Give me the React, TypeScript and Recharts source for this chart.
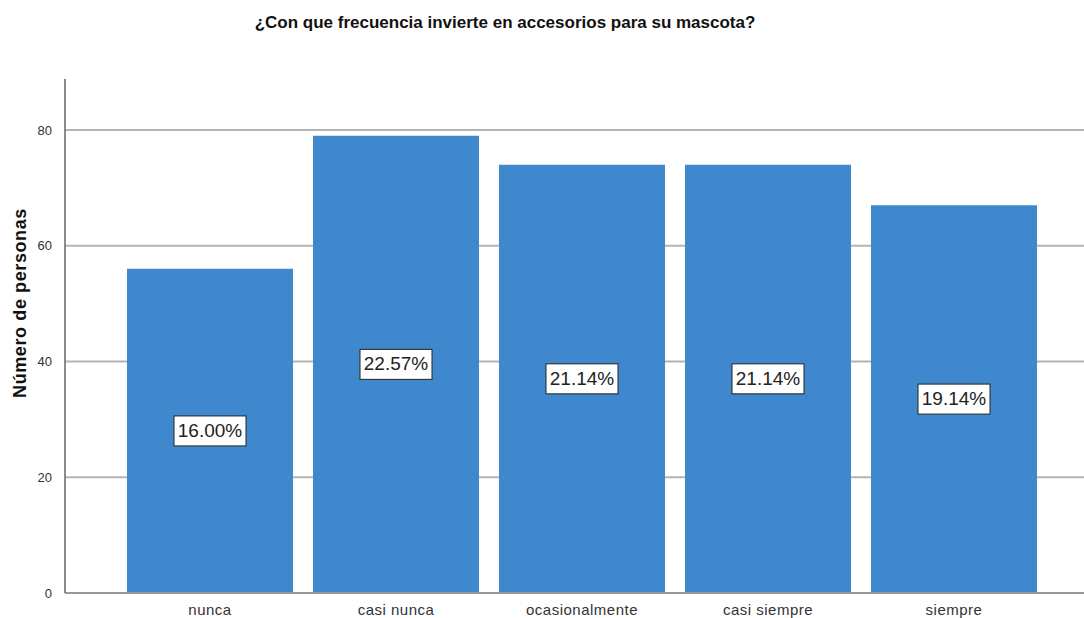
import { BarChart, Bar, XAxis, YAxis, CartesianGrid, LabelList } from 'recharts';

const categories = ['nunca', 'casi nunca', 'ocasionalmente', 'casi siempre', 'siempre'];
const counts = [56, 79, 74, 74, 67];
const percents = ['16.00%', '22.57%', '21.14%', '21.14%', '19.14%'];
const yTicks = [0, 20, 40, 60, 80];

const data = categories.map((c, i) => ({ name: c, value: counts[i], pct: percents[i] }));

const FONT = '"Liberation Sans", Arial, sans-serif';

// white boxed percentage placed at the middle of each bar
function PctLabel(props: any) {
  const { x, y, width, height, value } = props;
  const cx = x + width / 2;
  const cy = y + height / 2;
  const w = 72;
  const h = 30;
  return (
    <g>
      <rect x={cx - w / 2} y={cy - h / 2} width={w} height={h} fill="#fff" stroke="#222" strokeWidth={1} />
      <text x={cx} y={cy + 1} textAnchor="middle" dominantBaseline="middle" fontSize={19} fill="#222" fontFamily={FONT}>
        {value}
      </text>
    </g>
  );
}

export default function App() {
  return (
    <div style={{ position: 'absolute', left: 0, top: 0, width: 1084, height: 618, background: '#fff', fontFamily: FONT }}>
      <BarChart
        width={1084}
        height={618}
        data={data}
        margin={{ top: 79, right: 0, bottom: 0, left: 35 }}
      >
        {/* grid only at the labelled ticks, no line at the top of the plot */}
        <CartesianGrid
          vertical={false}
          stroke="#b4b4b4"
          strokeWidth={2}
          horizontalValues={yTicks.slice(1)}
        />
        <XAxis
          dataKey="name"
          height={25}
          padding={{ left: 52, right: 37 }}
          tickLine={false}
          axisLine={{ stroke: '#999', strokeWidth: 2 }}
          tick={{ fontSize: 15, fill: '#333', fontFamily: FONT, letterSpacing: 0.5 }}
          tickMargin={5}
          interval={0}
        />
        <YAxis
          width={30}
          domain={[0, 88.8]}
          ticks={yTicks}
          tickLine={false}
          axisLine={{ stroke: '#666', strokeWidth: 1.5 }}
          tick={{ fontSize: 13, fill: '#333', fontFamily: FONT }}
          tickMargin={7}
          allowDataOverflow
        />
        <Bar dataKey="value" fill="#4088cd" barSize={166} isAnimationActive={false}>
          <LabelList dataKey="pct" content={<PctLabel />} />
        </Bar>
      </BarChart>
      <div style={{ position: 'absolute', left: 0, top: 13, width: 1010, textAlign: 'center', fontSize: 17, fontWeight: 'bold', color: '#111' }}>
        ¿Con que frecuencia invierte en accesorios para su mascota?
      </div>
      <div
        style={{
          position: 'absolute',
          left: 20,
          top: 303,
          transform: 'translate(-50%, -50%) rotate(-90deg)',
          whiteSpace: 'nowrap',
          fontSize: 18,
          letterSpacing: 0.6,
          fontWeight: 'bold',
          color: '#111',
        }}
      >
        Número de personas
      </div>
    </div>
  );
}
